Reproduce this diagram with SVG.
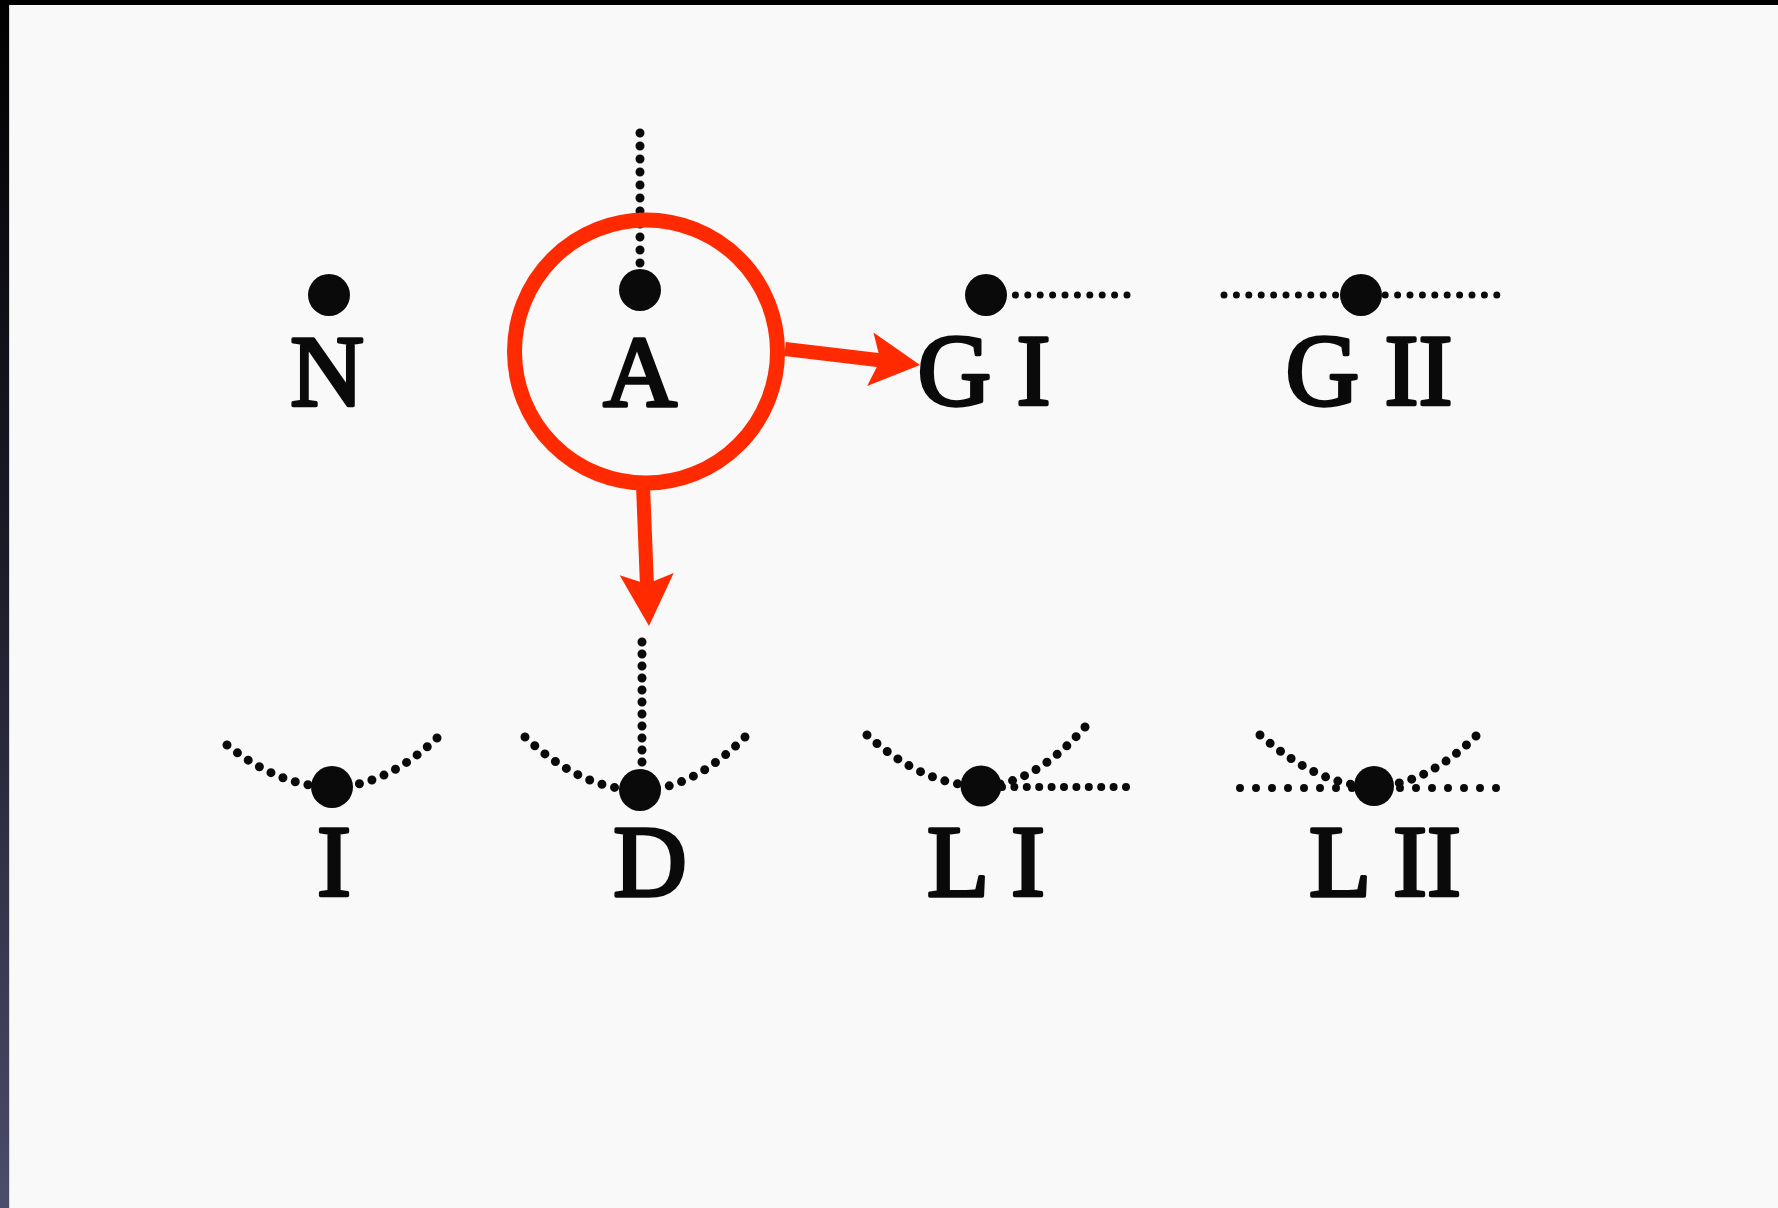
<svg xmlns="http://www.w3.org/2000/svg" width="1778" height="1208" viewBox="0 0 1778 1208">
  <defs>
    <linearGradient id="edge" x1="0" y1="0" x2="0" y2="1">
      <stop offset="0" stop-color="#000000"/>
      <stop offset="0.5" stop-color="#1e1e2c"/>
      <stop offset="1" stop-color="#4c4c6c"/>
    </linearGradient>
    <style>
      .lbl { font-family: "Liberation Serif", "Times New Roman", serif; font-size: 102px; fill: #0a0a0a; stroke: #0a0a0a; stroke-width: 3.6; stroke-linejoin: round; text-anchor: middle; }
      .big { fill: #0a0a0a; }
      .dv { fill: none; stroke: #0a0a0a; stroke-width: 9; stroke-linecap: round; stroke-dasharray: 0 13; }
      .dh { fill: none; stroke: #0a0a0a; stroke-width: 7; stroke-linecap: round; stroke-dasharray: 0 12.4; }
      .dc { fill: none; stroke: #0a0a0a; stroke-width: 9; stroke-linecap: round; stroke-dasharray: 0 13; }
      .dl { fill: none; stroke: #0a0a0a; stroke-width: 8; stroke-linecap: round; stroke-dasharray: 0 16; }
      .red { fill: none; stroke: #ff2a00; stroke-width: 15; }
      .shaft { fill: none; stroke: #ff2a00; stroke-width: 14; }
      .redfill { fill: #ff2a00; }
    </style>
  </defs>

  <rect x="0" y="0" width="1778" height="1208" fill="#f9f9f9"/>
  <rect x="0" y="0" width="1778" height="5" fill="#000000"/>
  <rect x="0" y="0" width="9" height="1208" fill="url(#edge)"/>
  <rect x="9" y="5" width="1" height="1203" fill="#d8d8e0"/>

  <g id="node-N">
    <circle class="big" cx="329" cy="295" r="21"/>
    <text class="lbl" x="327" y="406">N</text>
  </g>

  <g id="node-A">
    <path class="dv" d="M640,133 V290"/>
    <circle class="big" cx="640" cy="290" r="21"/>
    <text class="lbl" x="640" y="406">A</text>
  </g>

  <g id="node-GI">
    <path class="dh" d="M1127,295 H990"/>
    <circle class="big" cx="986" cy="295" r="21"/>
    <text class="lbl" x="984" y="405">G I</text>
  </g>

  <g id="node-GII">
    <path class="dh" d="M1224,295 H1502"/>
    <circle class="big" cx="1361" cy="295" r="21"/>
    <text class="lbl" x="1369" y="405">G II</text>
  </g>

  <g id="node-I">
    <path class="dc" d="M227,745 Q280,787 332,787"/>
    <path class="dc" d="M437,738 Q385,787 332,787"/>
    <circle class="big" cx="332" cy="787" r="21"/>
    <text class="lbl" x="334" y="896">I</text>
  </g>

  <g id="node-D">
    <path class="dv" d="M642,642 V790" style="stroke-dasharray:0 12"/>
    <path class="dc" d="M525,737 Q582,790 640,790"/>
    <path class="dc" d="M745,737 Q692,790 640,790"/>
    <circle class="big" cx="640" cy="790" r="21"/>
    <text class="lbl" x="650" y="896">D</text>
  </g>

  <g id="node-LI">
    <path class="dc" d="M867,735 Q924,786 981,786"/>
    <path class="dc" d="M1085,727 Q1033,786 981,786"/>
    <path class="dh" d="M1126,787 H985" style="stroke-width:8"/>
    <circle class="big" cx="981" cy="786" r="20.5"/>
    <text class="lbl" x="986" y="896">L I</text>
  </g>

  <g id="node-LII">
    <path class="dl" d="M1240,788 H1498"/>
    <path class="dc" d="M1260,735 Q1322,788 1374,786"/>
    <path class="dc" d="M1476,736 Q1425,786 1374,786"/>
    <circle class="big" cx="1374" cy="786" r="20"/>
    <text class="lbl" x="1385" y="896">L II</text>
  </g>

  <g id="highlight">
    <circle class="red" cx="646" cy="351.5" r="131.5"/>
  </g>

  <g id="connectors">
    <line class="shaft" x1="785" y1="349" x2="882" y2="360.5"/>
    <polygon class="redfill" points="920,365 873.5,332.4 880.3,360.3 867.1,386"/>
    <line class="shaft" x1="643" y1="485" x2="647" y2="586"/>
    <polygon class="redfill" points="649,626 673.7,572.9 646.8,584 619.7,575.3"/>
  </g>
</svg>
